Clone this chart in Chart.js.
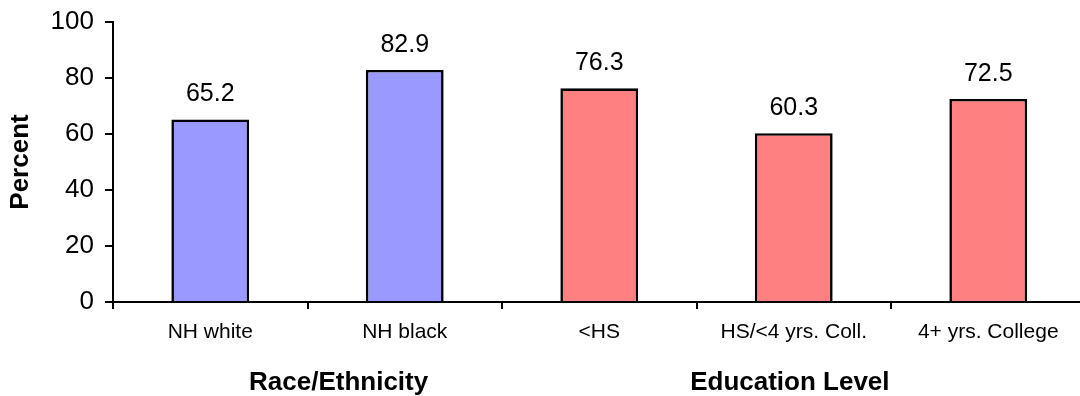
<!DOCTYPE html>
<html>
<head>
<meta charset="utf-8">
<script src="https://cdn.jsdelivr.net/npm/chart.js@4/dist/chart.umd.min.js"></script>
<style>
  html, body { margin: 0; padding: 0; background: #fff; overflow: hidden; }
  #wrap { position: absolute; left: 0; top: 0; width: 1090px; height: 396px; }
</style>
</head>
<body>
<div id="wrap"><canvas id="chart"></canvas></div>
<script>
// Categories, values and grouping
const categories = ['NH white', 'NH black', '<HS', 'HS/<4 yrs. Coll.', '4+ yrs. College'];
const percents = [65.2, 82.9, 76.3, 60.3, 72.5];
const groupIndex = [0, 0, 1, 1, 1];
const groupTitles = ['Race/Ethnicity', 'Education Level'];
const yTicks = [0, 20, 40, 60, 80, 100];

// Styling
const groupFill = ['#9999FF', '#FF8080'];
const FONT = "'Liberation Sans', Arial, Helvetica, sans-serif";
Chart.defaults.font.family = FONT;
Chart.defaults.color = '#000';

// Value labels above each bar
const valueLabels = {
  id: 'valueLabels',
  afterDatasetsDraw(chart) {
    const ctx = chart.ctx;
    const meta = chart.getDatasetMeta(0);
    ctx.save();
    ctx.font = '25px ' + FONT;
    ctx.fillStyle = '#000';
    ctx.textAlign = 'center';
    ctx.textBaseline = 'alphabetic';
    meta.data.forEach((bar, i) => {
      ctx.fillText(percents[i].toFixed(1), bar.x, bar.y - 18);
    });
    ctx.restore();
  }
};

// Group titles under the category labels
const groupLabels = {
  id: 'groupLabels',
  afterDraw(chart, args, opts) {
    const ctx = chart.ctx;
    const x = chart.scales.x;
    ctx.save();
    ctx.font = 'bold 26px ' + FONT;
    ctx.fillStyle = '#000';
    ctx.textAlign = 'center';
    ctx.textBaseline = 'alphabetic';
    groupTitles.forEach((t, g) => {
      const px = x.getPixelForValue(0) + opts.centers[g] * (x.getPixelForValue(1) - x.getPixelForValue(0));
      ctx.fillText(t, px, chart.chartArea.bottom + opts.baseline);
    });
    ctx.restore();
  }
};

new Chart(document.getElementById('chart'), {
  type: 'bar',
  data: {
    labels: categories,
    datasets: [{
      data: percents,
      backgroundColor: groupIndex.map(g => groupFill[g]),
      borderColor: '#000',
      borderWidth: 2.6,
      borderSkipped: 'start',
      categoryPercentage: 1,
      barPercentage: 0.4
    }]
  },
  options: {
    responsive: true,
    maintainAspectRatio: false,
    animation: false,
    events: [],
    layout: { padding: { left: 0, right: 4.5, top: 22, bottom: 0 } },
    plugins: {
      legend: { display: false },
      tooltip: { enabled: false },
      groupLabels: { centers: [0.66, 2.98], baseline: 88 }
    },
    scales: {
      x: {
        grid: { drawOnChartArea: false, drawTicks: true, tickLength: 7, color: '#000', lineWidth: 2, offset: true },
        border: { display: true, color: '#000', width: 2 },
        ticks: { font: { size: 21 }, color: '#000', padding: 11, maxRotation: 0, autoSkip: false },
        afterFit(scale) { scale.height = 94; }
      },
      y: {
        min: 0,
        max: 100,
        afterBuildTicks(scale) { scale.ticks = yTicks.map(v => ({ value: v })); },
        grid: { drawOnChartArea: false, drawTicks: true, tickLength: 8, color: '#000', lineWidth: 2 },
        border: { display: true, color: '#000', width: 2 },
        ticks: { font: { size: 26 }, color: '#000', padding: 11 },
        title: { display: true, text: 'Percent', font: { size: 26, weight: 'bold', lineHeight: 1 }, color: '#000', padding: { top: 8, bottom: 0 } },
        afterFit(scale) {
          scale.width = 113;
          scale.paddingTop = 0;
          scale.paddingBottom = 0;
        }
      }
    }
  },
  plugins: [valueLabels, groupLabels]
});
</script>
</body>
</html>
